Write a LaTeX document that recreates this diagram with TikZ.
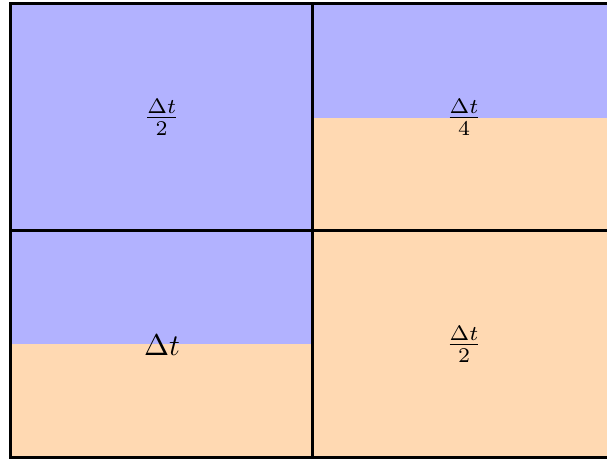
\documentclass[tikz,border=0pt]{standalone}
\usepackage{amsmath}
\begin{document}
\begin{tikzpicture}[x=0.3333pt,y=-0.3333pt,
  bluefill/.style={fill=blue!30},
  orangefill/.style={fill=orange!30},
  gridline/.style={draw=black,line width=1pt},
  lbl/.style={inner sep=0pt}]
\useasboundingbox (0,0) rectangle (607,459);
\clip (0,0) rectangle (607,459);
\fill[white] (0,0) rectangle (607,459);
% top-left: full blue
\fill[bluefill] (10.5,3.2) rectangle (312.8,230.8);
% top-right: blue upper half, orange lower half
\fill[bluefill] (312.8,3.2) rectangle (615.1,118);
\fill[orangefill] (312.8,118) rectangle (615.1,230.8);
% bottom-left: blue upper half, orange lower half
\fill[bluefill] (10.5,230.8) rectangle (312.8,344);
\fill[orangefill] (10.5,344) rectangle (312.8,457.6);
% bottom-right: full orange
\fill[orangefill] (312.8,230.8) rectangle (615.1,457.6);
% grid
\draw[gridline] (10.5,3.2) rectangle (615.1,457.6);
\draw[gridline] (312.8,3.2) -- (312.8,457.6);
\draw[gridline] (10.5,230.8) -- (615.1,230.8);
% labels
\node[lbl] (tl) at (161.7,117) {$\frac{\Delta t}{2}$};
\node[lbl] (tr) at (464,117) {$\frac{\Delta t}{4}$};
\node[lbl] (bl) at (162,345) {$\Delta t$};
\node[lbl] (br) at (464,344) {$\frac{\Delta t}{2}$};
\end{tikzpicture}
\end{document}
